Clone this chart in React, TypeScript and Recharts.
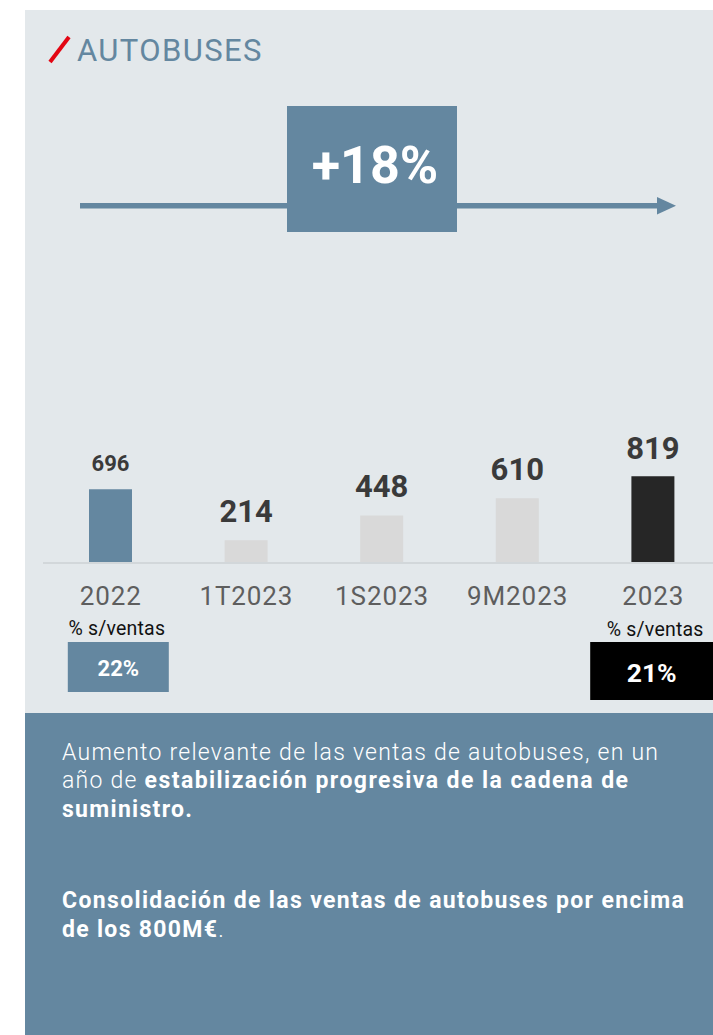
import React from 'react';
import { BarChart, Bar, XAxis, YAxis, Cell, LabelList } from 'recharts';

const periods = ['2022', '1T2023', '1S2023', '9M2023', '2023'];
const sales = [696, 214, 448, 610, 819];
const ratioLabels = ['22%', '', '', '', '21%'];
const ratioCaption = '% s/ventas';
const growthLabel = '+18%';
const title = 'AUTOBUSES';

const data = periods.map((p, i) => ({ period: p, sales: sales[i], ratio: ratioLabels[i] }));

const BLUE = '#6487A0';
const PANEL = '#E3E8EB';
const barColors = [BLUE, '#D9D9D9', '#D9D9D9', '#D9D9D9', '#262626'];
const FONT = 'Roboto, "Noto Sans", sans-serif';

const BarValueLabel = (props: any) => {
  const { x, y, width, value, index } = props;
  const small = index === 0;
  return (
    <text
      x={Number(x) + Number(width) / 2}
      y={Number(y) - (index === 4 ? 17 : 18.5)}
      textAnchor="middle"
      fill="#3A3A3A"
      fontFamily={FONT}
      fontWeight={700}
      fontSize={small ? 22 : 31}
    >
      {value}
    </text>
  );
};

const AxisTick = (props: any) => {
  const { x, y, payload } = props;
  const idx = payload?.index ?? props.index;
  const ratio = data[idx]?.ratio;
  return (
    <g>
      <text x={x} y={y + 42} textAnchor="middle" fill="#5E5E5E" fontFamily={FONT} fontSize={26} letterSpacing={0.9}>
        {payload.value}
      </text>
      {ratio && idx === 0 && (
        <g>
          <text x={x + 6} y={y + 72} textAnchor="middle" fill="#111" fontFamily={FONT} fontSize={19.5} letterSpacing={0.2}>
            {ratioCaption}
          </text>
          <rect x={x - 43} y={y + 79} width={101} height={50} fill={BLUE} />
          <text x={x + 7.5} y={y + 112.5} textAnchor="middle" fill="#fff" fontFamily={FONT} fontWeight={700} fontSize={22}>
            {ratio}
          </text>
        </g>
      )}
      {ratio && idx !== 0 && (
        <g>
          <text x={x + 2} y={y + 73} textAnchor="middle" fill="#111" fontFamily={FONT} fontSize={19.5} letterSpacing={0.2}>
            {ratioCaption}
          </text>
          <rect x={x - 63} y={y + 79} width={130} height={58} fill="#000" />
          <text x={x - 1.5} y={y + 119} textAnchor="middle" fill="#fff" fontFamily={FONT} fontWeight={700} fontSize={26.5}>
            {ratio}
          </text>
        </g>
      )}
    </g>
  );
};

export default function App() {
  return (
    <div
      style={{
        position: 'absolute',
        left: 0,
        top: 0,
        width: 713,
        height: 1035,
        overflow: 'hidden',
        background: '#fff',
        fontFamily: FONT,
      }}
    >
      <div style={{ position: 'absolute', left: 25, top: 10, width: 688, height: 703, background: PANEL }} />
      <div style={{ position: 'absolute', left: 25, top: 713, width: 688, height: 322, background: BLUE }} />

      <svg style={{ position: 'absolute', left: 0, top: 0 }} width={713} height={1035}>
        <line x1={50} y1={62} x2={69} y2={37} stroke="#E30613" strokeWidth={4} />
        <text x={77} y={61} fill={BLUE} fontFamily={FONT} fontSize={31} letterSpacing={1.4}>
          {title}
        </text>
        <rect x={80} y={203} width={580} height={5.5} fill={BLUE} />
        <polygon points="657,197 676,205.7 657,214.5" fill={BLUE} />
        <rect x={287} y={106} width={170} height={126} fill={BLUE} />
        <text x={375} y={183} textAnchor="middle" fill="#fff" fontFamily={FONT} fontWeight={700} fontSize={52}>
          {growthLabel}
        </text>

        <g fill="#fff" fontFamily={FONT} fontSize={23} style={{ whiteSpace: 'pre' }}>
          <text x={62} y={760} fontWeight={300} letterSpacing={1.25}>
            Aumento relevante de las ventas de autobuses, en un
          </text>
          <text x={62} y={788}>
            <tspan fontWeight={300} letterSpacing={1.25}>año de </tspan>
            <tspan fontWeight={700} letterSpacing={1.45}>estabilización  progresiva de la cadena de</tspan>
          </text>
          <text x={62} y={816.5} fontWeight={700} letterSpacing={1.3}>
            suministro.
          </text>
          <text x={62} y={908} fontWeight={700} letterSpacing={1.35}>
            Consolidación de las ventas de autobuses por encima
          </text>
          <text x={62} y={936.5}>
            <tspan fontWeight={700} letterSpacing={1.3}>de los 800M€</tspan>
            <tspan fontWeight={300}>.</tspan>
          </text>
        </g>
      </svg>

      <div style={{ position: 'absolute', left: 43, top: 400 }}>
        <BarChart width={678} height={310} data={data} margin={{ top: 57, right: 0, bottom: 0, left: 0 }}>
          <YAxis hide domain={[0, 1000]} />
          <XAxis
            dataKey="period"
            height={147}
            interval={0}
            tickLine={false}
            tickSize={0}
            tickMargin={0}
            axisLine={{ stroke: '#D2D7DA', strokeWidth: 2 }}
            tick={<AxisTick />}
          />
          <Bar dataKey="sales" barSize={43} isAnimationActive={false}>
            {data.map((d, i) => (
              <Cell key={d.period} fill={barColors[i]} />
            ))}
            <LabelList dataKey="sales" content={<BarValueLabel />} />
          </Bar>
        </BarChart>
      </div>
    </div>
  );
}
